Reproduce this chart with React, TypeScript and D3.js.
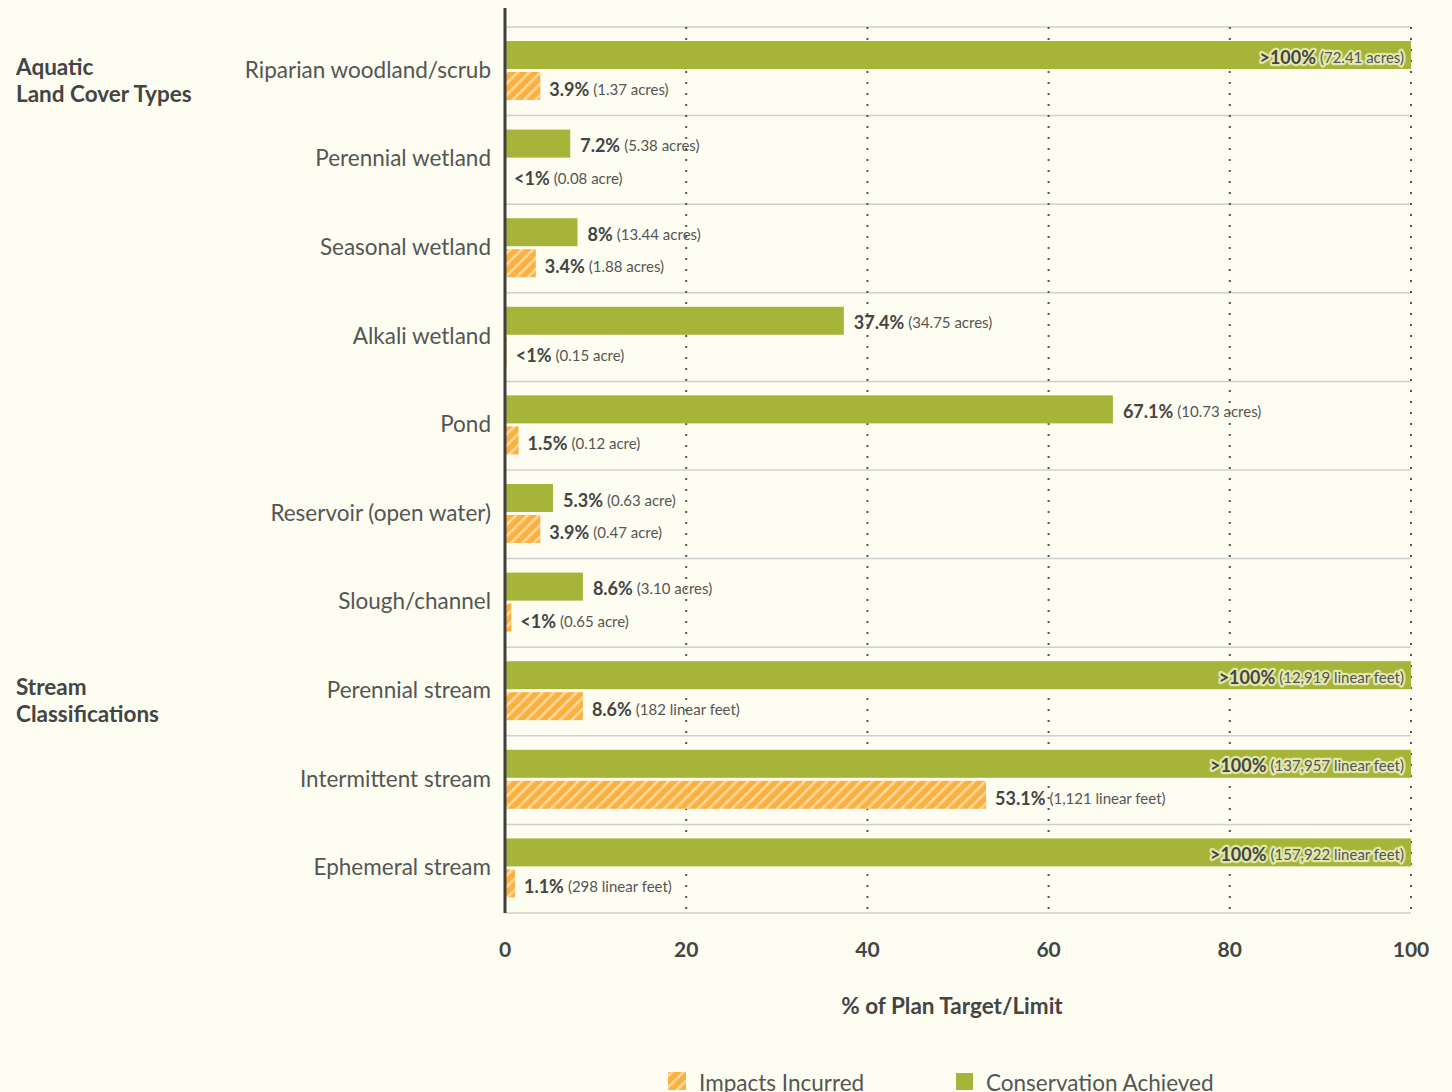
import React from "react";
import * as d3 from "d3";

const categories = [
  "Riparian woodland/scrub",
  "Perennial wetland",
  "Seasonal wetland",
  "Alkali wetland",
  "Pond",
  "Reservoir (open water)",
  "Slough/channel",
  "Perennial stream",
  "Intermittent stream",
  "Ephemeral stream",
];
const conservationValues = [100, 7.2, 8, 37.4, 67.1, 5.3, 8.6, 100, 100, 100];
const impactValues = [3.9, 0, 3.4, 0.2, 1.5, 3.9, 0.7, 8.6, 53.1, 1.1];
const conservationPct = [">100%", "7.2%", "8%", "37.4%", "67.1%", "5.3%", "8.6%", ">100%", ">100%", ">100%"];
const conservationAmt = [
  "(72.41 acres)", "(5.38 acres)", "(13.44 acres)", "(34.75 acres)", "(10.73 acres)",
  "(0.63 acre)", "(3.10 acres)", "(12,919 linear feet)", "(137,957 linear feet)", "(157,922 linear feet)",
];
const impactPct = ["3.9%", "<1%", "3.4%", "<1%", "1.5%", "3.9%", "<1%", "8.6%", "53.1%", "1.1%"];
const impactAmt = [
  "(1.37 acres)", "(0.08 acre)", "(1.88 acres)", "(0.15 acre)", "(0.12 acre)",
  "(0.47 acre)", "(0.65 acre)", "(182 linear feet)", "(1,121 linear feet)", "(298 linear feet)",
];
const groupLabels = [["Aquatic", "Land Cover Types"], ["Stream", "Classifications"]];
const groupStart = [0, 7];
const xTicks = [0, 20, 40, 60, 80, 100];
const axisTitle = "% of Plan Target/Limit";
const legendItems = ["Impacts Incurred", "Conservation Achieved"];

const W = 1452;
const H = 1092;
const FONT = "Lato, 'Open Sans', sans-serif";
const BG = "#fdfdf1";
const GREEN = "#a7b43a";
const ORANGE = "#fbb040";
const STRIPE = "#fdd99c";
const DARK = "#444444";
const MID = "#555555";

export default function App() {
  const x = d3.scaleLinear().domain([0, 100]).range([505, 1411]);
  const y = d3.scaleBand<string>().domain(categories).range([27, 913]).padding(0);
  const bw = y.bandwidth();
  const barH = 28;
  const gTop = 14;
  const oTop = gTop + barH + 3;
  const boundaries = d3.range(categories.length + 1).map((i) => 27 + i * bw);

  return (
    <svg
      width={W}
      height={H}
      style={{ position: "absolute", left: 0, top: 0, background: BG, fontFamily: FONT }}
    >
      <defs>
        <pattern id="hatch" width="8" height="8" patternUnits="userSpaceOnUse" patternTransform="rotate(45)">
          <rect width="8" height="8" fill={ORANGE} />
          <rect x="0" y="0" width="2.6" height="8" fill={STRIPE} />
        </pattern>
      </defs>
      <rect width={W} height={H} fill={BG} />

      {boundaries.map((b, i) => (
        <line key={"h" + i} x1={x(0)} x2={x(100)} y1={b} y2={b} stroke="#cfcfcf" strokeWidth={1.5} />
      ))}
      {xTicks.slice(1).map((t) => (
        <line
          key={"v" + t}
          x1={x(t)}
          x2={x(t)}
          y1={27}
          y2={913}
          stroke="#555"
          strokeWidth={2}
          strokeDasharray="2 9"
        />
      ))}

      {categories.map((c, i) => {
        const top = y(c)!;
        return (
          <g key={c}>
            <rect x={x(0)} y={top + gTop} width={x(conservationValues[i]) - x(0)} height={barH} fill={GREEN} />
            {impactValues[i] > 0 && (
              <rect x={x(0)} y={top + oTop} width={x(impactValues[i]) - x(0)} height={barH} fill="url(#hatch)" />
            )}
          </g>
        );
      })}

      {categories.map((c, i) => {
        const top = y(c)!;
        const inside = conservationValues[i] >= 100;
        const gy = top + gTop + barH / 2 + 1.5;
        const oy = top + oTop + barH / 2 + 3;
        const gx = inside ? x(100) - 7 : x(conservationValues[i]) + 10;
        const ox = x(impactValues[i]) + 9;
        return (
          <g key={"l" + c}>
            <text
              x={gx}
              y={gy}
              textAnchor={inside ? "end" : "start"}
              dominantBaseline="central"
              fill={DARK}
              stroke={inside ? "rgba(240,243,200,0.8)" : "none"}
              strokeWidth={inside ? 4.5 : 0}
              strokeLinejoin="round"
              style={{ paintOrder: "stroke" }}
            >
              <tspan fontWeight={700} fontSize={18}>{conservationPct[i]}</tspan>
              <tspan fontSize={15} fill={MID} dx={4}>{conservationAmt[i]}</tspan>
            </text>
            <text x={ox} y={oy} dominantBaseline="central" fill={DARK}>
              <tspan fontWeight={700} fontSize={18}>{impactPct[i]}</tspan>
              <tspan fontSize={15} fill={MID} dx={4}>{impactAmt[i]}</tspan>
            </text>
          </g>
        );
      })}

      {categories.map((c) => (
        <text
          key={"c" + c}
          x={491}
          y={y(c)! + bw / 2 - 2}
          textAnchor="end"
          dominantBaseline="central"
          fontSize={22.5}
          fill={MID}
        >
          {c}
        </text>
      ))}

      {groupLabels.map((lines, gi) => {
        const base = y(categories[groupStart[gi]])! + bw / 2 - 5;
        return lines.map((ln, li) => (
          <text
            key={"g" + gi + li}
            x={16}
            y={base + li * 27}
            dominantBaseline="central"
            fontSize={22.5}
            fontWeight={700}
            fill={DARK}
          >
            {ln}
          </text>
        ));
      })}

      <line x1={x(0)} x2={x(0)} y1={8} y2={913} stroke="#3f3f3f" strokeWidth={3} />

      {xTicks.map((t) => (
        <text
          key={"t" + t}
          x={x(t)}
          y={948}
          textAnchor="middle"
          dominantBaseline="central"
          fontSize={21}
          fontWeight={700}
          fill={DARK}
        >
          {t}
        </text>
      ))}
      <text x={952} y={1005} textAnchor="middle" dominantBaseline="central" fontSize={22.5} fontWeight={700} fill={DARK}>
        {axisTitle}
      </text>

      <rect x={668} y={1072} width={18} height={18} fill="url(#hatch)" />
      <text x={699} y={1082} dominantBaseline="central" fontSize={22.5} fill={MID}>
        {legendItems[0]}
      </text>
      <rect x={956} y={1073} width={17} height={17} fill={GREEN} />
      <text x={986} y={1082} dominantBaseline="central" fontSize={22.5} fill={MID}>
        {legendItems[1]}
      </text>
    </svg>
  );
}
